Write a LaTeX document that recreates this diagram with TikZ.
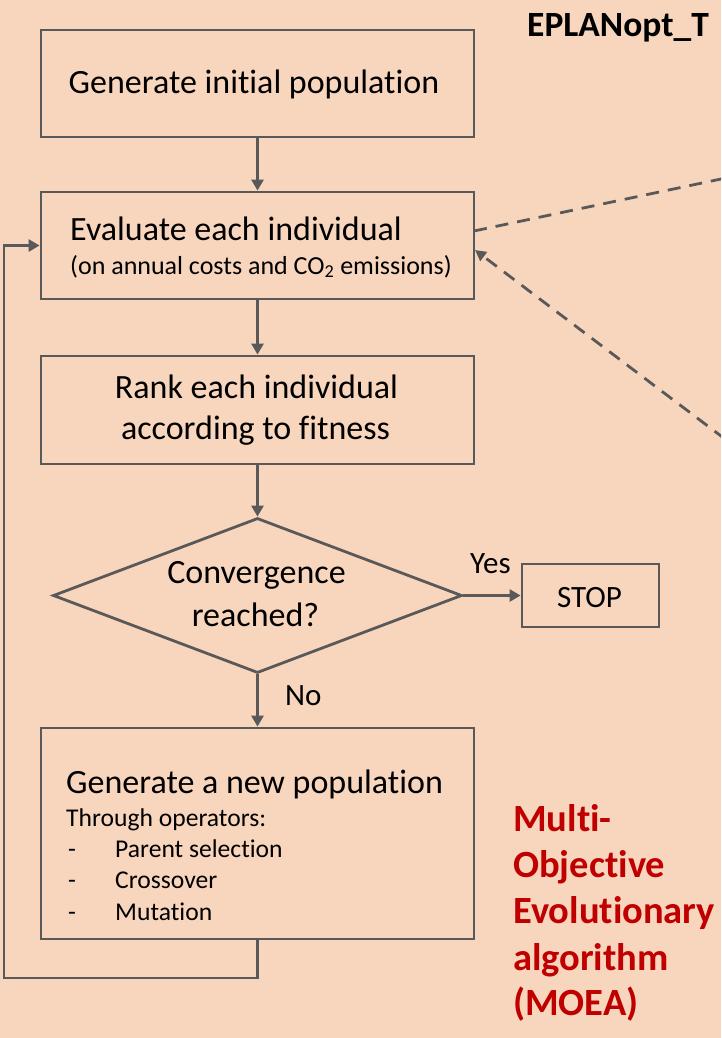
\documentclass[tikz,border=0pt]{standalone}
\usepackage{fontspec}
\setmainfont{Carlito}[Ligatures={NoCommon}]
\usetikzlibrary{arrows.meta,shapes.geometric}
\definecolor{bgc}{RGB}{248,214,190}
\definecolor{lnc}{RGB}{89,89,89}
\definecolor{redc}{RGB}{192,0,0}
\tikzset{
  box/.style={draw=lnc, line width=2.8pt, inner sep=0pt},
  arr/.style={draw=lnc, line width=2.8pt, -{Triangle[length=11pt,width=12pt]}},
  dsh/.style={draw=lnc, line width=2.8pt, dash pattern=on 13pt off 9pt},
  lbl/.style={inner sep=0pt, anchor=base, text=black},
  lblw/.style={inner sep=0pt, anchor=base west, text=black},
  big/.style={font=\fontsize{34}{40}\selectfont},
  mid/.style={font=\fontsize{31}{37}\selectfont},
  sml/.style={font=\fontsize{25.6}{30}\selectfont},
  sub/.style={font=\fontsize{26}{30}\selectfont},
  redt/.style={inner sep=0pt, anchor=base west, text=redc, font=\fontsize{38.5}{46}\selectfont\bfseries},
}
\begin{document}
\begin{tikzpicture}[x=1pt,y=-1pt]
\fill[bgc] (0,0) rectangle (721,1038);
\useasboundingbox (0,0) rectangle (721,1038);
\clip (0,0) rectangle (721,1038);

% boxes
\node[box, minimum width=433pt, minimum height=107pt] (b1) at (257.5,83.5) {};
\node[box, minimum width=433pt, minimum height=107pt] (b2) at (257.5,245.5) {};
\node[box, minimum width=433pt, minimum height=108pt] (b3) at (257.5,410) {};
\node[box, shape=diamond, minimum width=409pt, minimum height=155pt] (dia) at (257.5,595.5) {};
\node[box, minimum width=137pt, minimum height=63pt] (stop) at (590.5,595.5) {};
\node[box, minimum width=433pt, minimum height=211pt] (b5) at (257.5,833.5) {};

% texts
\node[lbl, big] (t1) at (254,94) {Generate initial population};
\node[lblw, big] (t2) at (70,240) {Evaluate each individual};
\node[lblw, sub] (t2b) at (70,274) {(on annual costs and CO\textsubscript{2} emissions)};
\node[lbl, big] (t3a) at (256.5,398) {Rank each individual};
\node[lbl, big] (t3b) at (255.5,439) {according to fitness};
\node[lbl, big] (t4a) at (256.5,583) {Convergence};
\node[lbl, big] (t4b) at (255.5,626) {reached?};
\node[lbl, mid] (tstop) at (589.5,607) {STOP};
\node[lblw, mid] (tyes) at (470,573) {Yes};
\node[lblw, mid] (tno) at (285,705) {No};
\node[lblw, big] (t5) at (66,793) {Generate a new population};
\node[lblw, sml] (t5a) at (66,826) {Through operators:};
\node[lblw, sml] (d1) at (68,857) {-};
\node[lblw, sml] (d2) at (68,888) {-};
\node[lblw, sml] (d3) at (68,920) {-};
\node[lblw, sml] (i1) at (115,857) {Parent selection};
\node[lblw, sml] (i2) at (115,888) {Crossover};
\node[lblw, sml] (i3) at (115,920) {Mutation};

\node[inner sep=0pt, anchor=base west, font=\fontsize{35.5}{42}\selectfont\bfseries] (title) at (527,37) {EPLANopt\_T};

\node[redt] (r1) at (513,831) {Multi-};
\node[redt] (r2) at (513,877) {Objective};
\node[redt] (r3) at (513,923) {Evolutionary};
\node[redt] (r4) at (513,970) {algorithm};
\node[redt] (r5) at (513,1015) {(MOEA)};

% connectors
\draw[arr] (b1.south) -- (b2.north);
\draw[arr] (b2.south) -- (b3.north);
\draw[arr] (b3.south) -- (dia.north);
\draw[arr] (dia.south) -- (b5.north);
\draw[arr] (dia.east) -- (stop.west);
\coordinate (fbL) at (4,978);
\draw[arr] (b5.south) |- (fbL) |- (b2.west);

% dashed links
\coordinate (d1s) at (474,231);
\coordinate (d1e) at (760,170.8);
\coordinate (d2s) at (760,465.5);
\coordinate (d2e) at (475,250);
\draw[dsh] (d1s) -- (d1e);
\draw[dsh, -{Triangle[length=11pt,width=11pt]}] (d2s) -- (d2e);
\end{tikzpicture}
\end{document}
